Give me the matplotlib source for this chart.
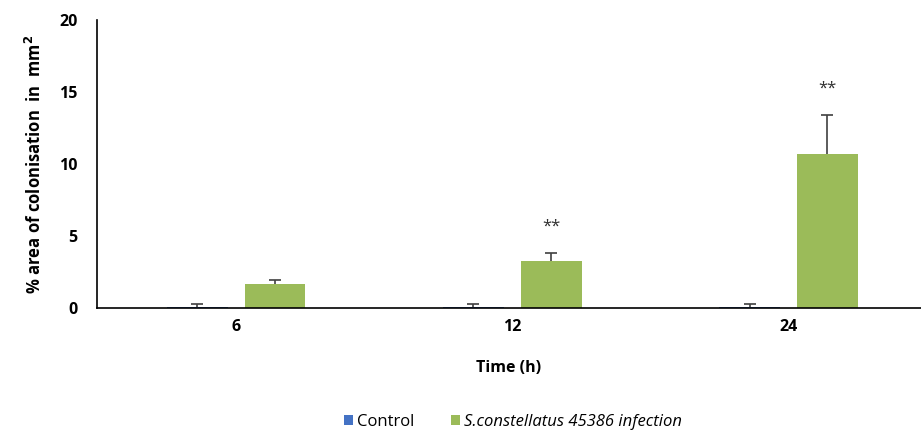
import matplotlib

matplotlib.use('Agg')
import matplotlib.pyplot as plt
import numpy as np

times = ['6', '12', '24']
control = [0.1, 0.1, 0.1]
control_err = [0.2, 0.2, 0.2]
infection = [1.67, 3.26, 10.7]
infection_err = [0.28, 0.55, 2.7]
stars = ['', '**', '**']

plt.rcParams['font.family'] = ['Open Sans', 'DejaVu Sans']

fig = plt.figure(figsize=(9.21, 4.37), dpi=100)
ax = fig.add_axes([97 / 921, 1 - 308 / 437, 1 - 97 / 921, 288 / 437])

x = np.arange(len(times))
w = 0.22
off = 0.141
ecol = '#404040'

def bars_with_err(xs, vals, errs, color, label):
    ax.bar(xs, vals, w, color=color, label=label)
    # only the upper half of the error bar, with a cap on top
    ax.errorbar(xs, vals, yerr=[np.zeros(len(vals)), errs], fmt='none',
                ecolor=ecol, elinewidth=1.2, capsize=0)
    ax.plot(xs, np.array(vals) + np.array(errs), ls='none', marker='_',
            ms=9, mew=1.2, color=ecol)

bars_with_err(x - off, control, control_err, '#4472C4', 'Control')
bars_with_err(x + off, infection, infection_err, '#9BBB59', 'S.constellatus 45386 infection')

for i, s in enumerate(stars):
    if s:
        ax.text(x[i] + off, infection[i] + infection_err[i] + 1.3, s, ha='center',
                va='bottom', fontsize=12, color='#303030')

ax.set_xlim(-0.504, 2.48)
ax.set_ylim(0, 20)
ax.set_yticks([0, 5, 10, 15, 20])
ax.set_xticks(x)
ax.set_xticklabels(times, fontsize=11.5, fontweight='bold')
for t in ax.get_yticklabels():
    t.set_fontsize(11.5)
    t.set_fontweight('bold')
ax.tick_params(axis='both', length=0, pad=8)
ax.tick_params(axis='y', pad=14)
for s in ['top', 'right']:
    ax.spines[s].set_visible(False)
ax.spines['left'].set_linewidth(1.2)
ax.spines['bottom'].set_linewidth(1.2)

ax.set_xlabel('Time (h)', fontsize=11.5, fontweight='bold', labelpad=18)
ax.set_ylabel('% area of colonisation  in  mm$^\\mathbf{2}$', fontsize=12, fontweight='bold', labelpad=10)

leg = ax.legend(loc='center', bbox_to_anchor=(0.505, -0.395), ncol=2, frameon=False,
                fontsize=12, handlelength=0.55, handleheight=0.55, columnspacing=2.2,
                handletextpad=0.25)
leg.get_texts()[1].set_fontstyle('italic')

plt.savefig('out.png', dpi=100)
